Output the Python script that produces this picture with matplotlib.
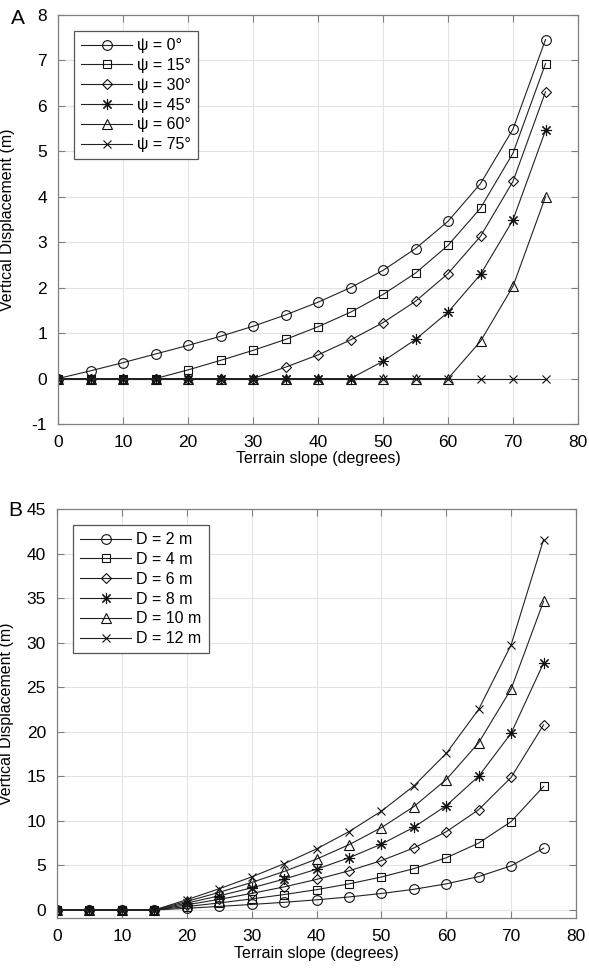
"""Vertical displacement vs terrain slope, two panels (A: psi, B: D)."""

import matplotlib

matplotlib.use("Agg")
import matplotlib.pyplot as plt

plt.rcParams["font.family"] = ["Liberation Sans", "DejaVu Sans"]
plt.rcParams["axes.unicode_minus"] = False

slope = [0, 5, 10, 15, 20, 25, 30, 35, 40, 45, 50, 55, 60, 65, 70, 75]

# panel A: different psi
psi_labels = ["\u03c8 = 0\u00b0", "\u03c8 = 15\u00b0", "\u03c8 = 30\u00b0",
              "\u03c8 = 45\u00b0", "\u03c8 = 60\u00b0", "\u03c8 = 75\u00b0"]
psi_0 = [0, 0.17, 0.35, 0.54, 0.73, 0.93, 1.15, 1.40, 1.68, 2.00, 2.38, 2.86,
         3.46, 4.29, 5.49, 7.46]
psi_15 = [0, 0, 0, 0, 0.19, 0.40, 0.62, 0.86, 1.14, 1.46, 1.85, 2.32, 2.93,
          3.75, 4.96, 6.93]
psi_30 = [0, 0, 0, 0, 0, 0, 0, 0.25, 0.52, 0.85, 1.23, 1.70, 2.31, 3.13,
          4.34, 6.31]
psi_45 = [0, 0, 0, 0, 0, 0, 0, 0, 0, 0, 0.38, 0.86, 1.46, 2.29, 3.49, 5.46]
psi_60 = [0, 0, 0, 0, 0, 0, 0, 0, 0, 0, 0, 0, 0, 0.82, 2.03, 4.00]
psi_75 = [0] * 16

# panel B: different D
d_labels = ["D = 2 m", "D = 4 m", "D = 6 m", "D = 8 m", "D = 10 m", "D = 12 m"]
d_2 = [0, 0, 0, 0, 0.19, 0.40, 0.62, 0.86, 1.14, 1.46, 1.85, 2.32, 2.93,
       3.75, 4.96, 6.93]
d_4 = [0, 0, 0, 0, 0.38, 0.79, 1.24, 1.73, 2.28, 2.93, 3.70, 4.64, 5.86,
       7.51, 9.92, 13.86]
d_6 = [0, 0, 0, 0, 0.58, 1.19, 1.86, 2.59, 3.43, 4.39, 5.54, 6.96, 8.78,
       11.26, 14.88, 20.78]
d_8 = [0, 0, 0, 0, 0.77, 1.59, 2.48, 3.46, 4.57, 5.86, 7.39, 9.28, 11.71,
       15.01, 19.84, 27.71]
d_10 = [0, 0, 0, 0, 0.96, 1.98, 3.09, 4.32, 5.71, 7.32, 9.24, 11.60, 14.64,
        18.77, 24.80, 34.64]
d_12 = [0, 0, 0, 0, 1.15, 2.38, 3.71, 5.19, 6.85, 8.79, 11.09, 13.92, 17.57,
        22.52, 29.76, 41.57]

markers = ["o", "s", "D", (8, 2, 0), "^", "x"]
msizes = [7, 6, 5.5, 8, 7, 6]

W, H = 589, 971
fig = plt.figure(figsize=(W / 100, H / 100), dpi=100)


def px_axes(left, right, top, bottom):
    return fig.add_axes([left / W, 1 - bottom / H, (right - left) / W,
                         (bottom - top) / H])


def style(ax, ylim, yticks):
    ax.set_xlim(0, 80)
    ax.set_ylim(*ylim)
    ax.set_xticks(range(0, 81, 10))
    ax.set_yticks(yticks)
    ax.grid(True, color="#e3e3e3", lw=0.8)
    ax.set_axisbelow(True)
    for s in ax.spines.values():
        s.set_color("#7f7f7f")
        s.set_linewidth(0.9)
    ax.tick_params(direction="in", length=5, width=0.8, color="#7f7f7f",
                   top=True, right=True, labelsize=12.5, pad=8)
    ax.set_xlabel("Terrain slope (degrees)", fontsize=11.5, labelpad=1)
    ax.set_ylabel("Vertical Displacement (m)", fontsize=11.5)
    ax.yaxis.set_label_coords(-0.082, 0.5)


def draw(ax, series, labels):
    for ys, lab, m, ms in zip(series, labels, markers, msizes):
        ax.plot(slope, ys, color="#222222", lw=0.8, marker=m, ms=ms,
                mfc="none", mec="#111111", mew=0.8, label=lab)
    leg = ax.legend(loc="upper left", fontsize=11.5, handlelength=3.2,
                    labelspacing=0.3, borderpad=0.45, handletextpad=0.3,
                    borderaxespad=1.0, fancybox=False, framealpha=1)
    leg.get_frame().set_edgecolor("#555555")
    leg.get_frame().set_linewidth(0.9)


axA = px_axes(58, 578, 15, 424)
draw(axA, [psi_0, psi_15, psi_30, psi_45, psi_60, psi_75], psi_labels)
style(axA, (-1, 8), range(-1, 9))

axB = px_axes(57, 576, 509, 918)
draw(axB, [d_2, d_4, d_6, d_8, d_10, d_12], d_labels)
style(axB, (-0.9, 45), range(0, 46, 5))

fig.text(18 / W, 1 - 18 / H, "A", fontsize=15, ha="center", va="center")
fig.text(15 / W, 1 - 510 / H, "B", fontsize=15, ha="center", va="center")

fig.savefig("out.png", dpi=100)
